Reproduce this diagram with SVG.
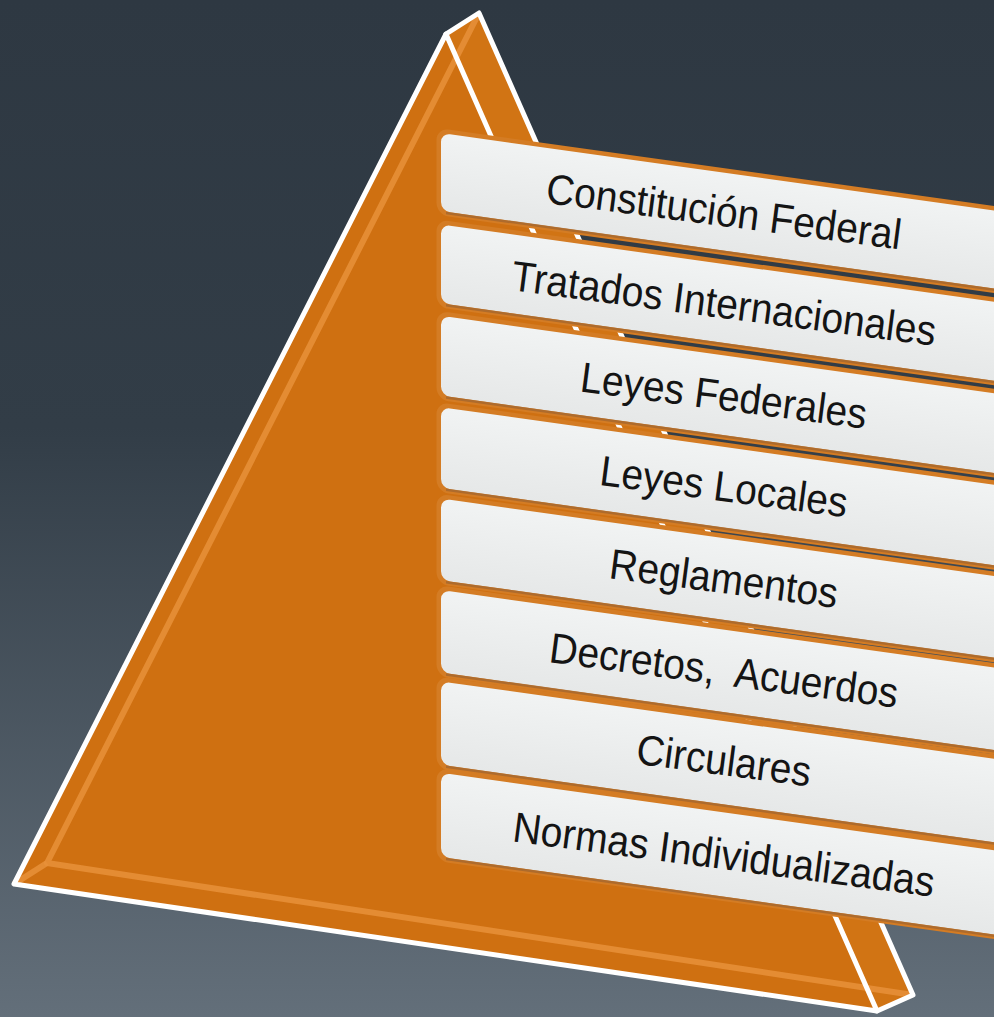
<svg xmlns="http://www.w3.org/2000/svg" width="994" height="1017" viewBox="0 0 994 1017">
  <defs>
    <linearGradient id="bg" x1="0" y1="0" x2="0" y2="1">
      <stop offset="0" stop-color="#2e3842"/>
      <stop offset="0.42" stop-color="#323d47"/>
      <stop offset="1" stop-color="#636f7a"/>
    </linearGradient>
    <linearGradient id="barFill" x1="0" y1="0" x2="0" y2="1">
      <stop offset="0" stop-color="#f1f3f3"/>
      <stop offset="1" stop-color="#e6e8e8"/>
    </linearGradient>
    <style>
      .edge { fill: #d47c24; }
      .face { fill: url(#barFill); }
      .shade { stroke: #a8692e; stroke-width: 2.5; opacity: 0.85; }
      .lbl { font-family: "Liberation Sans", Arial, sans-serif; font-size: 39px; fill: #141414; text-anchor: middle; }
      .white { fill: none; stroke: #ffffff; stroke-width: 5; stroke-linejoin: round; stroke-linecap: round; }
      .back { fill: none; stroke: #e8913a; stroke-width: 6; stroke-linejoin: round; opacity: 0.85; }
    </style>
  </defs>

  <rect id="background" x="0" y="0" width="994" height="1017" fill="url(#bg)"/>

  <g id="pyramid">
    <polygon points="446,34 479,13 913,995 877,1011" fill="#d17414"/>
    <polygon points="446,34 14,884 877,1011" fill="#cf7011"/>
    <polyline class="back" points="479,13 47,863 913,995"/>
    <line class="back" x1="14" y1="884" x2="47" y2="863"/>
    <polyline class="white" points="446,34 479,13 913,995 877,1011"/>
    <polygon class="white" points="446,34 14,884 877,1011"/>
  </g>

  <g id="bars">
    <g id="bar-1">
      <g transform="skewY(7.97)">
        <rect class="edge" x="436.5" y="66.76" width="640" height="87" rx="12"/>
        <rect class="face" x="441" y="71.26" width="630" height="78" rx="9"/>
        <line class="shade" x1="446" y1="150.5" x2="1080" y2="150.5"/>
      </g>
      <text class="lbl" transform="translate(722 226) rotate(7.5) scale(1 1.09)">Constitución Federal</text>
    </g>
    <g id="bar-2">
      <g transform="skewY(7.97)">
        <rect class="edge" x="436.5" y="158.16" width="640" height="87.9" rx="12"/>
        <rect class="face" x="441" y="162.66" width="630" height="78.9" rx="9"/>
        <line class="shade" x1="446" y1="242.8" x2="1080" y2="242.8"/>
      </g>
      <text class="lbl" transform="translate(722 318) rotate(7.5) scale(1 1.09)">Tratados Internacionales</text>
    </g>
    <g id="bar-3">
      <g transform="skewY(7.97)">
        <rect class="edge" x="436.5" y="249.56" width="640" height="88.8" rx="12"/>
        <rect class="face" x="441" y="254.06" width="630" height="79.8" rx="9"/>
        <line class="shade" x1="446" y1="335.1" x2="1080" y2="335.1"/>
      </g>
      <text class="lbl" transform="translate(722 410) rotate(7.5) scale(1 1.09)">Leyes Federales</text>
    </g>
    <g id="bar-4">
      <g transform="skewY(7.97)">
        <rect class="edge" x="436.5" y="340.96" width="640" height="89.7" rx="12"/>
        <rect class="face" x="441" y="345.46" width="630" height="80.7" rx="9"/>
        <line class="shade" x1="446" y1="427.4" x2="1080" y2="427.4"/>
      </g>
      <text class="lbl" transform="translate(722 501) rotate(7.5) scale(1 1.09)">Leyes Locales</text>
    </g>
    <g id="bar-5">
      <g transform="skewY(7.97)">
        <rect class="edge" x="436.5" y="432.36" width="640" height="90.6" rx="12"/>
        <rect class="face" x="441" y="436.86" width="630" height="81.6" rx="9"/>
        <line class="shade" x1="446" y1="519.7" x2="1080" y2="519.7"/>
      </g>
      <text class="lbl" transform="translate(722 593) rotate(7.5) scale(1 1.09)">Reglamentos</text>
    </g>
    <g id="bar-6">
      <g transform="skewY(7.97)">
        <rect class="edge" x="436.5" y="523.76" width="640" height="91.5" rx="12"/>
        <rect class="face" x="441" y="528.26" width="630" height="82.5" rx="9"/>
        <line class="shade" x1="446" y1="612" x2="1080" y2="612"/>
      </g>
      <text class="lbl" transform="translate(722 685) rotate(7.5) scale(1 1.09)" style="white-space:pre">Decretos,  Acuerdos</text>
    </g>
    <g id="bar-7">
      <g transform="skewY(7.97)">
        <rect class="edge" x="436.5" y="615.16" width="640" height="92.4" rx="12"/>
        <rect class="face" x="441" y="619.66" width="630" height="83.4" rx="9"/>
        <line class="shade" x1="446" y1="704.3" x2="1080" y2="704.3"/>
      </g>
      <text class="lbl" transform="translate(722 775) rotate(7.5) scale(1 1.09)">Circulares</text>
    </g>
    <g id="bar-8">
      <g transform="skewY(7.97)">
        <rect class="edge" x="436.5" y="706.56" width="640" height="93.3" rx="12"/>
        <rect class="face" x="441" y="711.06" width="630" height="84.3" rx="9"/>
        <line class="shade" x1="446" y1="796.6" x2="1080" y2="796.6"/>
      </g>
      <text class="lbl" transform="translate(722 869) rotate(7.5) scale(1 1.09)">Normas Individualizadas</text>
    </g>
  </g>
</svg>
